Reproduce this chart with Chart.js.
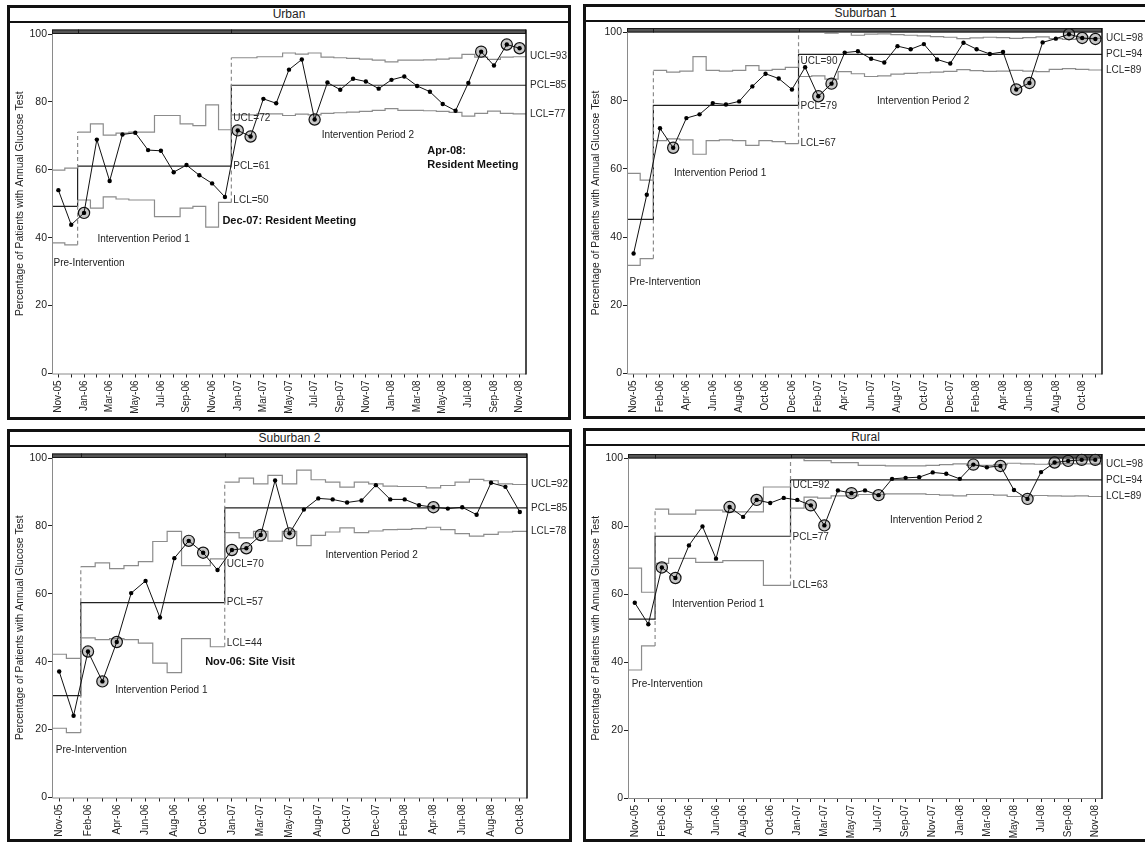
<!DOCTYPE html>
<html>
<head>
<meta charset="utf-8">
<title>Annual glucose testing – control charts by site</title>
<script src="https://cdn.jsdelivr.net/npm/chart.js@4.4.1/dist/chart.umd.min.js"></script>
<style>
  html, body { margin: 0; padding: 0; background: #fff; }
  body { position: relative; width: 1145px; height: 842px; overflow: hidden;
         font-family: "Liberation Sans", Arial, sans-serif; }
  .panel { position: absolute; box-sizing: border-box; border: 3px solid #111; background: #fff; }
  .panel .head { height: 13px; border-bottom: 2px solid #111; text-align: center;
                 font-size: 12px; line-height: 13px; color: #222; }
  canvas { position: absolute; }
</style>
</head>
<body>
<script>
// ---------- Urban ----------
const urbanMonths = ['Nov-05','Dec-05','Jan-06','Feb-06','Mar-06','Apr-06','May-06','Jun-06','Jul-06','Aug-06','Sep-06','Oct-06','Nov-06','Dec-06',
  'Jan-07','Feb-07','Mar-07','Apr-07','May-07','Jun-07','Jul-07','Aug-07','Sep-07','Oct-07','Nov-07','Dec-07',
  'Jan-08','Feb-08','Mar-08','Apr-08','May-08','Jun-08','Jul-08','Aug-08','Sep-08','Oct-08','Nov-08'];
const urbanRate = [54.0, 43.8, 47.3, 68.9, 56.7, 70.4, 70.9, 65.8, 65.6, 59.3, 61.4, 58.4, 56.0, 52.0,
  71.6, 69.8, 80.9, 79.6, 89.5, 92.5, 74.8, 85.7, 83.6, 86.8, 86.0, 83.9,
  86.5, 87.5, 84.7, 83.0, 79.4, 77.4, 85.6, 94.8, 90.7, 96.9, 95.8];
const urbanSignals = [2, 14, 15, 20, 33, 35, 36];
const urbanPhaseStart = [0, 2, 14];
const urbanCenter = [49.2, 61.1, 84.9];
const urbanUCL = [59.9, 60.5,
  71.1, 73.5, 70.2, 70.8, 71.1, 71.1, 76.0, 76.0, 73.5, 73.0, 79.1, 71.8,
  93.0, 93.0, 93.3, 93.3, 94.4, 94.1, 94.4, 93.2, 93.0, 92.8, 92.6, 92.3, 91.8, 92.3, 92.3, 92.4, 92.6, 92.9, 94.0, 93.2, 92.5, 93.2, 93.3];
const urbanLCL = [38.5, 37.9,
  51.1, 48.7, 52.0, 51.4, 51.1, 51.1, 46.2, 46.2, 48.7, 49.2, 43.1, 50.4,
  76.2, 76.2, 76.5, 76.5, 76.0, 76.4, 76.2, 76.6, 76.8, 77.0, 77.2, 77.5, 78.0, 77.5, 77.5, 77.4, 77.2, 76.9, 75.8, 76.6, 77.3, 76.6, 76.5];

// ---------- Suburban 1 ----------
const sub1Months = ['Nov-05','Dec-05','Feb-06','Mar-06','Apr-06','May-06','Jun-06','Jul-06','Aug-06','Sep-06','Oct-06','Nov-06','Dec-06',
  'Jan-07','Feb-07','Mar-07','Apr-07','May-07','Jun-07','Jul-07','Aug-07','Sep-07','Oct-07','Nov-07','Dec-07',
  'Jan-08','Feb-08','Mar-08','Apr-08','May-08','Jun-08','Jul-08','Aug-08','Sep-08','Oct-08','Nov-08'];
const sub1Rate = [35.2, 52.4, 71.9, 66.2, 74.9, 76.0, 79.3, 78.9, 79.8, 84.2, 87.9, 86.5, 83.3,
  89.8, 81.3, 85.0, 94.1, 94.5, 92.3, 91.2, 96.0, 95.1, 96.6, 92.1, 90.9,
  97.0, 95.1, 93.7, 94.3, 83.3, 85.2, 97.1, 98.2, 99.5, 98.4, 98.1];
const sub1Signals = [3, 14, 15, 29, 30, 33, 34, 35];
const sub1PhaseStart = [0, 2, 13];
const sub1Center = [45.2, 78.6, 93.6];
const sub1UCL = [58.7, 56.7,
  88.9, 88.4, 88.7, 92.9, 88.9, 88.7, 88.9, 90.3, 88.9, 89.2, 89.8,
  100, 100, 99.8, 100, 99.2, 99.5, 99.6, 99.4, 99.2, 99.0, 98.8, 98.6, 98.2, 98.4, 98.6, 98.5, 98.3, 98.5, 98.7, 98.2, 98.0, 98.2, 98.3];
const sub1LCL = [31.7, 33.7,
  68.3, 68.8, 68.5, 64.3, 68.3, 68.5, 68.3, 66.9, 68.3, 68.0, 67.4,
  87.1, 87.3, 86.3, 88.5, 87.9, 87.1, 87.3, 87.8, 88.0, 88.2, 88.4, 88.6, 89.1, 88.8, 88.6, 88.7, 88.9, 88.7, 88.5, 89.2, 89.4, 89.2, 89.0];

// ---------- Suburban 2 ----------
const sub2Months = ['Nov-05','Dec-05','Feb-06','Mar-06','Apr-06','May-06','Jun-06','Jul-06','Aug-06','Sep-06','Oct-06','Nov-06',
  'Jan-07','Feb-07','Mar-07','Apr-07','May-07','Jul-07','Aug-07','Sep-07','Oct-07','Nov-07','Dec-07',
  'Jan-08','Feb-08','Mar-08','Apr-08','May-08','Jun-08','Jul-08','Aug-08','Sep-08','Oct-08'];
const sub2Rate = [37.1, 24.1, 43.0, 34.2, 45.8, 60.2, 63.8, 53.0, 70.5, 75.6, 72.1, 67.0,
  72.9, 73.4, 77.3, 93.4, 77.8, 84.8, 88.1, 87.8, 86.9, 87.5, 92.0,
  87.8, 87.8, 86.1, 85.5, 85.1, 85.5, 83.3, 92.7, 91.5, 84.1];
const sub2Signals = [2, 3, 4, 9, 10, 12, 13, 14, 16, 26];
const sub2PhaseStart = [0, 2, 12];
const sub2Center = [30.0, 57.4, 85.3];
const sub2UCL = [42.2, 41.0,
  68.0, 69.1, 67.4, 68.3, 69.5, 75.4, 78.4, 68.3, 68.3, 70.3,
  92.9, 94.1, 92.4, 94.9, 92.4, 96.4, 93.6, 92.9, 91.4, 92.9, 92.4, 91.7, 91.6, 91.6, 91.2, 91.9, 92.9, 93.7, 93.3, 92.4, 92.2];
const sub2LCL = [20.4, 19.1,
  47.0, 46.5, 46.8, 46.5, 45.5, 39.6, 36.8, 46.8, 46.8, 44.4,
  78.0, 76.5, 78.4, 75.5, 78.4, 74.2, 77.2, 78.2, 79.4, 78.0, 78.5, 78.9, 79.0, 79.2, 79.6, 78.9, 77.7, 77.0, 77.5, 78.2, 78.4];

// ---------- Rural ----------
const ruralMonths = ['Nov-05','Dec-05','Feb-06','Mar-06','Apr-06','May-06','Jun-06','Jul-06','Aug-06','Sep-06','Oct-06','Nov-06',
  'Jan-07','Feb-07','Mar-07','Apr-07','May-07','Jun-07','Jul-07','Aug-07','Sep-07','Oct-07','Nov-07','Dec-07',
  'Jan-08','Feb-08','Mar-08','Apr-08','May-08','Jun-08','Jul-08','Aug-08','Sep-08','Oct-08','Nov-08'];
const ruralRate = [57.5, 51.2, 67.9, 64.8, 74.4, 80.0, 70.5, 85.7, 82.8, 87.8, 86.9, 88.4,
  87.8, 86.2, 80.3, 90.6, 89.8, 90.6, 89.2, 94.0, 94.3, 94.5, 95.9, 95.5,
  94.0, 98.2, 97.4, 97.8, 90.7, 88.1, 96.0, 98.8, 99.3, 99.6, 99.6];
const ruralSignals = [2, 3, 7, 9, 13, 14, 16, 18, 25, 27, 29, 31, 32, 33, 34];
const ruralPhaseStart = [0, 2, 12];
const ruralCenter = [52.7, 77.1, 93.7];
const ruralUCL = [67.7, 60.6,
  85.1, 83.6, 83.6, 84.8, 84.8, 84.3, 84.3, 84.3, 91.6, 91.6,
  100, 99.4, 99.4, 98.8, 98.8, 98.0, 98.0, 97.8, 97.8, 97.8, 98.0, 98.2, 98.4, 98.0, 98.0, 98.2, 98.6, 98.4, 98.3, 98.4, 98.5, 98.4, 98.4];
const ruralLCL = [37.7, 44.8,
  69.1, 70.6, 70.6, 69.4, 69.4, 69.9, 69.9, 69.9, 62.6, 62.6,
  85.4, 88.6, 88.3, 89.0, 89.0, 89.4, 89.4, 89.6, 89.6, 89.6, 89.4, 89.2, 89.0, 89.4, 89.4, 89.2, 88.8, 89.0, 89.1, 89.0, 88.9, 89.0, 88.8];

const phaseNames = ['Pre-Intervention', 'Intervention Period 1', 'Intervention Period 2'];

const FONT = '"Liberation Sans", Arial, sans-serif';
Chart.defaults.font.family = FONT;

// Panel layout: frame box, plot rectangle, text notes (x in month index, y in %)
const panels = [
  { title: 'Urban', months: urbanMonths, rate: urbanRate, signals: urbanSignals, phaseStart: urbanPhaseStart,
    center: urbanCenter, ucl: urbanUCL, lcl: urbanLCL,
    box: { l: 7, t: 5, w: 564, h: 415 }, plot: { l: 52, t: 34, r: 526, b: 373.5 }, midShift: [-11, 0, -2],
    notes: [
      { text: phaseNames[0], x: -0.38, y: 32.6 },
      { text: phaseNames[1], x: 3.05, y: 39.6 },
      { text: phaseNames[2], x: 20.55, y: 70.1 },
      { text: 'Dec-07: Resident Meeting', x: 12.8, y: 45.0, bold: true },
      { text: 'Apr-08:', x: 28.8, y: 65.5, bold: true },
      { text: 'Resident Meeting', x: 28.8, y: 61.3, bold: true }
    ] },
  { title: 'Suburban 1', months: sub1Months, rate: sub1Rate, signals: sub1Signals, phaseStart: sub1PhaseStart,
    center: sub1Center, ucl: sub1UCL, lcl: sub1LCL,
    box: { l: 583, t: 4, w: 565, h: 415 }, plot: { l: 627, t: 32.5, r: 1102, b: 373.5 }, midShift: [-6, 1, 0],
    notes: [
      { text: phaseNames[0], x: -0.31, y: 26.9 },
      { text: phaseNames[1], x: 3.06, y: 58.7 },
      { text: phaseNames[2], x: 18.45, y: 79.9 }
    ] },
  { title: 'Suburban 2', months: sub2Months, rate: sub2Rate, signals: sub2Signals, phaseStart: sub2PhaseStart,
    center: sub2Center, ucl: sub2UCL, lcl: sub2LCL,
    box: { l: 7, t: 429, w: 565, h: 413 }, plot: { l: 52, t: 458, r: 527, b: 797.5 }, midShift: [5, 0, -4],
    notes: [
      { text: phaseNames[0], x: -0.24, y: 14.0 },
      { text: phaseNames[1], x: 3.89, y: 31.5 },
      { text: phaseNames[2], x: 18.5, y: 71.3 },
      { text: 'Nov-06: Site Visit', x: 10.14, y: 39.9, bold: true }
    ] },
  { title: 'Rural', months: ruralMonths, rate: ruralRate, signals: ruralSignals, phaseStart: ruralPhaseStart,
    center: ruralCenter, ucl: ruralUCL, lcl: ruralLCL,
    box: { l: 583, t: 428, w: 565, h: 414 }, plot: { l: 628, t: 458.5, r: 1102, b: 798 }, midShift: [-2, 1, 0],
    notes: [
      { text: phaseNames[0], x: -0.23, y: 33.4 },
      { text: phaseNames[1], x: 2.75, y: 57.1 },
      { text: phaseNames[2], x: 18.84, y: 81.8 }
    ] }
];

// Month-wide steps for a limit series (each month spans index-0.5 .. index+0.5)
function limitSteps(values) {
  const pts = [];
  values.forEach((v, i) => { pts.push({ x: i - 0.5, y: v }); pts.push({ x: i + 0.5, y: v }); });
  return pts;
}
// Centre line: one level per phase, joined by vertical risers
function centerSteps(center, starts, n) {
  const pts = [];
  center.forEach((c, k) => {
    const end = (k + 1 < starts.length ? starts[k + 1] : n) - 1;
    pts.push({ x: starts[k] - 0.5, y: c });
    pts.push({ x: end + 0.5, y: c });
  });
  return pts;
}

function decorations(p) {
  const n = p.months.length;
  const last = p.phaseStart.length - 1;
  return {
    id: 'decor',
    beforeDatasetsDraw(chart) {
      const { ctx, chartArea: a, scales: { x } } = chart;
      ctx.save();
      // phase bar along the top of the plot
      ctx.fillStyle = '#555';
      ctx.fillRect(a.left, a.top - 4.5, a.right - a.left, 4.5);
      ctx.strokeStyle = '#1a1a1a';
      ctx.lineWidth = 1;
      ctx.strokeRect(a.left + 0.5, a.top - 4, a.right - a.left - 1, 3.5);
      p.phaseStart.slice(1).forEach(s => {
        const px = Math.round(x.getPixelForValue(s - 0.5)) + 0.5;
        ctx.beginPath(); ctx.moveTo(px, a.top - 4.5); ctx.lineTo(px, a.top); ctx.stroke();
      });
      ctx.restore();
    },
    afterDatasetsDraw(chart) {
      const { ctx, chartArea: a, scales: { x, y } } = chart;
      ctx.save();
      // plot frame
      ctx.lineWidth = 1;
      ctx.strokeStyle = '#8a8a8a';
      ctx.beginPath();
      ctx.moveTo(a.left + 0.5, a.top); ctx.lineTo(a.left + 0.5, a.bottom + 0.5); ctx.lineTo(a.right, a.bottom + 0.5);
      ctx.stroke();
      ctx.strokeStyle = '#111';
      ctx.lineWidth = 1.5;
      ctx.beginPath(); ctx.moveTo(a.right, a.top - 4.5); ctx.lineTo(a.right, a.bottom + 1); ctx.stroke();

      // limit labels at the end of the last two phases
      ctx.font = '10px ' + FONT;
      ctx.fillStyle = '#2a2a2a';
      ctx.textAlign = 'left';
      ctx.textBaseline = 'middle';
      [last - 1, last].forEach(k => {
        const end = (k < last ? p.phaseStart[k + 1] : n) - 1;
        const lx = k < last ? x.getPixelForValue(end + 0.5) + 2 : a.right + 4;
        const shift = k < last ? p.midShift : [0, 0, 0];
        [['UCL', p.ucl[end]], ['PCL', p.center[k]], ['LCL', p.lcl[end]]].forEach(([key, v], j) => {
          ctx.fillText(key + '=' + Math.round(v), lx, y.getPixelForValue(v) + shift[j]);
        });
      });

      // phase names and event notes
      p.notes.forEach(nt => {
        ctx.font = (nt.bold ? 'bold 11px ' : '10px ') + FONT;
        ctx.fillStyle = nt.bold ? '#111' : '#222';
        ctx.fillText(nt.text, x.getPixelForValue(nt.x), y.getPixelForValue(nt.y));
      });
      ctx.restore();
    }
  };
}

function buildPanel(p) {
  const box = document.createElement('div');
  box.className = 'panel';
  Object.assign(box.style, { left: p.box.l + 'px', top: p.box.t + 'px', width: p.box.w + 'px', height: p.box.h + 'px' });
  const head = document.createElement('div');
  head.className = 'head';
  head.textContent = p.title;
  box.appendChild(head);
  document.body.appendChild(box);

  const cl = p.box.l + 3, ct = p.box.t + 3 + 15;
  const cr = Math.min(p.box.l + p.box.w - 3, 1145), cb = p.box.t + p.box.h - 3;
  const cw = cr - cl, ch = cb - ct;
  const cv = document.createElement('canvas');
  cv.width = cw; cv.height = ch;
  Object.assign(cv.style, { left: cl + 'px', top: ct + 'px', width: cw + 'px', height: ch + 'px' });
  document.body.appendChild(cv);

  const n = p.months.length;
  const bounds = p.phaseStart.slice(1).map(s => s - 0.5);
  const dashAtPhaseChange = ctx =>
    (ctx.p0.parsed.x === ctx.p1.parsed.x && bounds.includes(ctx.p0.parsed.x)) ? [4, 3] : undefined;

  new Chart(cv, {
    type: 'line',
    data: {
      datasets: [
        { label: 'Rate', data: p.rate.map((v, i) => ({ x: i, y: v })), borderColor: '#111', borderWidth: 1,
          pointRadius: 2.2, pointBackgroundColor: '#000', pointBorderWidth: 0, tension: 0, clip: false, order: 0 },
        { label: 'Signal', data: p.signals.map(i => ({ x: i, y: p.rate[i] })), showLine: false,
          pointRadius: 5.6, pointBackgroundColor: 'rgba(130,130,130,0.45)', pointBorderColor: '#111',
          pointBorderWidth: 1.2, clip: false, order: 1 },
        { label: 'UCL', data: limitSteps(p.ucl), borderColor: '#8c8c8c', borderWidth: 1.2, pointRadius: 0,
          segment: { borderDash: dashAtPhaseChange }, order: 2 },
        { label: 'LCL', data: limitSteps(p.lcl), borderColor: '#8c8c8c', borderWidth: 1.2, pointRadius: 0,
          segment: { borderDash: dashAtPhaseChange }, order: 2 },
        { label: 'PCL', data: centerSteps(p.center, p.phaseStart, n), borderColor: '#222', borderWidth: 1.2,
          pointRadius: 0, order: 2 }
      ]
    },
    options: {
      responsive: false,
      animation: false,
      devicePixelRatio: 1,
      events: [],
      layout: { padding: { left: 0, bottom: 0, top: p.plot.t - ct, right: cr - p.plot.r } },
      plugins: { legend: { display: false }, tooltip: { enabled: false } },
      scales: {
        x: {
          type: 'linear', min: -0.5, max: n - 0.5,
          afterBuildTicks: s => { s.ticks = p.months.map((_, i) => ({ value: i })); },
          afterFit: s => { s.height = cb - p.plot.b; },
          border: { display: false },
          grid: { drawOnChartArea: false, drawTicks: true, tickLength: 4, tickColor: '#222', lineWidth: 1 },
          ticks: {
            autoSkip: false, maxRotation: 90, minRotation: 90, padding: 3,
            color: '#222', font: { size: 10 },
            callback: v => { const i = Math.round(v); return i % 2 === 0 ? p.months[i] : ''; }
          }
        },
        y: {
          min: 0, max: 100,
          afterFit: s => { s.width = p.plot.l - cl; },
          border: { display: false },
          grid: { drawOnChartArea: false, drawTicks: true, tickLength: 4, tickColor: '#222', lineWidth: 1 },
          ticks: { stepSize: 20, padding: 1, color: '#222', font: { size: 10.5 } },
          title: { display: true, text: 'Percentage of Patients with Annual Glucose Test',
                   color: '#222', font: { size: 10.4 }, padding: { top: 4, bottom: 0 } }
        }
      }
    },
    plugins: [decorations(p)]
  });
}

panels.forEach(buildPanel);
</script>
</body>
</html>
